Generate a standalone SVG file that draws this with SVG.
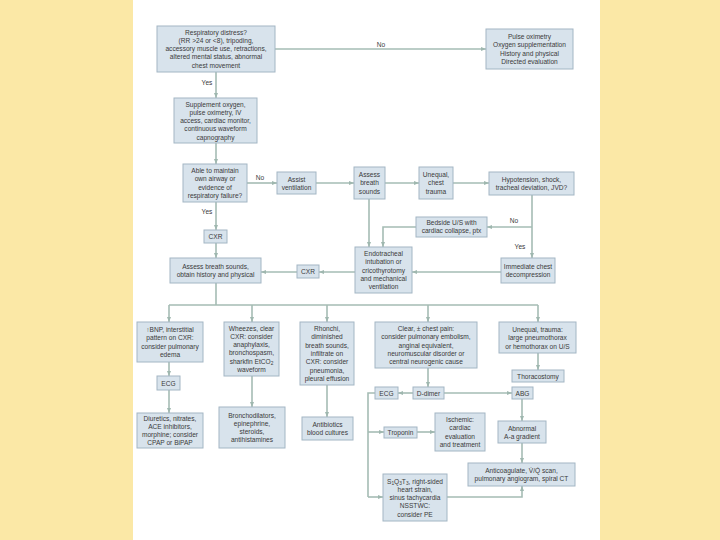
<svg xmlns="http://www.w3.org/2000/svg" width="720" height="540" viewBox="0 0 720 540">
<defs>
<style>
.b{fill:#d8e3ec;stroke:#a3b6c4;stroke-width:1}
.t{font-family:"Liberation Sans",Arial,sans-serif;font-size:6.6px;fill:#3a3a3a;text-anchor:middle}
.l{font-family:"Liberation Sans",Arial,sans-serif;font-size:6.6px;fill:#3a3a3a;text-anchor:middle}
.c{fill:none;stroke:#a5bcb4;stroke-width:1.6}
.a{marker-end:url(#ah)}
</style>
<marker id="ah" viewBox="0 0 10 10" refX="10" refY="5" markerWidth="5" markerHeight="5" markerUnits="userSpaceOnUse" orient="auto">
<path d="M0,1 L10,5 L0,9 z" fill="#9fb7af"/>
</marker>
</defs>
<rect x="0" y="0" width="720" height="540" fill="#fbe8a6"/>
<rect x="133" y="0" width="467" height="540" fill="#ffffff"/>

<g id="connectors">
<path class="c a" d="M275,49 H486"/>
<path class="c a" d="M216,72 V98"/>
<path class="c a" d="M216,143 V164"/>
<path class="c a" d="M247,183 H277"/>
<path class="c a" d="M316,183 H354"/>
<path class="c a" d="M385,183 H419"/>
<path class="c a" d="M453,183 H489"/>
<path class="c a" d="M532,195 V258"/>
<path class="c a" d="M532,227 H487"/>
<path class="c a" d="M416,227 H383 V247"/>
<path class="c a" d="M369,199 V247"/>
<path class="c a" d="M501,272 H412"/>
<path class="c a" d="M355,272 H319"/>
<path class="c a" d="M297,272 H261"/>
<path class="c a" d="M216,202 V230"/>
<path class="c a" d="M216,243 V258"/>
<path class="c" d="M216,283 V305 M169,305 H538"/>
<path class="c a" d="M169,305 V322"/>
<path class="c a" d="M252,305 V322"/>
<path class="c a" d="M327,305 V322"/>
<path class="c a" d="M428,305 V322"/>
<path class="c a" d="M538,305 V322"/>
<path class="c a" d="M169,362 V376"/>
<path class="c a" d="M169,390 V413"/>
<path class="c a" d="M252,376 V407"/>
<path class="c a" d="M327,385 V417"/>
<path class="c a" d="M538,353 V370"/>
<path class="c a" d="M428,368 V387"/>
<path class="c a" d="M413,393 H398"/>
<path class="c a" d="M444,393 H512"/>
<path class="c" d="M375,393 H368 V497"/>
<path class="c a" d="M368,432 H384"/>
<path class="c a" d="M368,497 H383"/>
<path class="c a" d="M417,432 H435"/>
<path class="c a" d="M522,399 V421"/>
<path class="c a" d="M522,443 V463"/>
<path class="c a" d="M447,497 H522 V486"/>
<text class="l" x="381" y="47">No</text>
<text class="l" x="207" y="85">Yes</text>
<text class="l" x="260" y="180">No</text>
<text class="l" x="207" y="214">Yes</text>
<text class="l" x="514" y="223">No</text>
<text class="l" x="520" y="249">Yes</text>
</g>

<g id="n-resp"><rect class="b" x="157" y="26" width="118" height="46"/>
<text class="t" x="216" y="34.5"><tspan x="216">Respiratory distress?</tspan><tspan x="216" dy="8.3">(RR &gt;24 or &lt;8), tripoding,</tspan><tspan x="216" dy="8.3">accessory muscle use, retractions,</tspan><tspan x="216" dy="8.3">altered mental status, abnormal</tspan><tspan x="216" dy="8.3">chest movement</tspan></text></g>

<g id="n-pulse"><rect class="b" x="486" y="29" width="87" height="40"/>
<text class="t" x="529.5" y="39"><tspan x="529.5">Pulse oximetry</tspan><tspan x="529.5" dy="8.3">Oxygen supplementation</tspan><tspan x="529.5" dy="8.3">History and physical</tspan><tspan x="529.5" dy="8.3">Directed evaluation</tspan></text></g>

<g id="n-supp"><rect class="b" x="174" y="98" width="83" height="45"/>
<text class="t" x="215.5" y="106.5"><tspan x="215.5">Supplement oxygen,</tspan><tspan x="215.5" dy="8.3">pulse oximetry, IV</tspan><tspan x="215.5" dy="8.3">access, cardiac monitor,</tspan><tspan x="215.5" dy="8.3">continuous waveform</tspan><tspan x="215.5" dy="8.3">capnography</tspan></text></g>

<g id="n-able"><rect class="b" x="183" y="164" width="64" height="38"/>
<text class="t" x="215" y="173"><tspan x="215">Able to maintain</tspan><tspan x="215" dy="8.3">own airway or</tspan><tspan x="215" dy="8.3">evidence of</tspan><tspan x="215" dy="8.3">respiratory failure?</tspan></text></g>

<g id="n-assist"><rect class="b" x="277" y="172" width="39" height="22"/>
<text class="t" x="296.5" y="181.5"><tspan x="296.5">Assist</tspan><tspan x="296.5" dy="8.3">ventilation</tspan></text></g>

<g id="n-assess"><rect class="b" x="354" y="167" width="31" height="32"/>
<text class="t" x="369.5" y="177"><tspan x="369.5">Assess</tspan><tspan x="369.5" dy="8.3">breath</tspan><tspan x="369.5" dy="8.3">sounds</tspan></text></g>

<g id="n-unequal"><rect class="b" x="419" y="167" width="34" height="32"/>
<text class="t" x="436" y="177"><tspan x="436">Unequal,</tspan><tspan x="436" dy="8.3">chest</tspan><tspan x="436" dy="8.3">trauma</tspan></text></g>

<g id="n-hypo"><rect class="b" x="489" y="172" width="85" height="23"/>
<text class="t" x="531.5" y="181.5"><tspan x="531.5">Hypotension, shock,</tspan><tspan x="531.5" dy="8.3">tracheal deviation, JVD?</tspan></text></g>

<g id="n-bedside"><rect class="b" x="416" y="217" width="71" height="20"/>
<text class="t" x="451.5" y="225"><tspan x="451.5">Bedside U/S with</tspan><tspan x="451.5" dy="8.3">cardiac collapse, ptx</tspan></text></g>

<g id="n-immediate"><rect class="b" x="501" y="258" width="54" height="25"/>
<text class="t" x="528" y="268.5"><tspan x="528">Immediate chest</tspan><tspan x="528" dy="8.3">decompression</tspan></text></g>

<g id="n-endo"><rect class="b" x="355" y="247" width="57" height="46"/>
<text class="t" x="383.5" y="256"><tspan x="383.5">Endotracheal</tspan><tspan x="383.5" dy="8.3">intubation or</tspan><tspan x="383.5" dy="8.3">cricothyrotomy</tspan><tspan x="383.5" dy="8.3">and mechanical</tspan><tspan x="383.5" dy="8.3">ventilation</tspan></text></g>

<g id="n-cxr2"><rect class="b" x="297" y="265" width="22" height="13"/>
<text class="t" x="308" y="274">CXR</text></g>

<g id="n-assesshist"><rect class="b" x="170" y="258" width="91" height="25"/>
<text class="t" x="215.5" y="268.5"><tspan x="215.5">Assess breath sounds,</tspan><tspan x="215.5" dy="8.3">obtain history and physical</tspan></text></g>

<g id="n-cxr1"><rect class="b" x="204" y="230" width="23" height="13"/>
<text class="t" x="215.5" y="239">CXR</text></g>

<g id="n-bnp"><rect class="b" x="137" y="322" width="66" height="40"/>
<text class="t" x="170" y="332"><tspan x="170">↑BNP, interstitial</tspan><tspan x="170" dy="8.3">pattern on CXR:</tspan><tspan x="170" dy="8.3">consider pulmonary</tspan><tspan x="170" dy="8.3">edema</tspan></text></g>

<g id="n-ecg1"><rect class="b" x="157" y="376" width="23" height="14"/>
<text class="t" x="168.5" y="385.5">ECG</text></g>

<g id="n-diur"><rect class="b" x="137" y="413" width="66" height="35"/>
<text class="t" x="170" y="420.5"><tspan x="170">Diuretics, nitrates,</tspan><tspan x="170" dy="8.3">ACE inhibitors,</tspan><tspan x="170" dy="8.3">morphine; consider</tspan><tspan x="170" dy="8.3">CPAP or BiPAP</tspan></text></g>

<g id="n-wheez"><rect class="b" x="224" y="322" width="55" height="54"/>
<text class="t" x="251.5" y="330.5"><tspan x="251.5">Wheezes, clear</tspan><tspan x="251.5" dy="8.3">CXR: consider</tspan><tspan x="251.5" dy="8.3">anaphylaxis,</tspan><tspan x="251.5" dy="8.3">bronchospasm,</tspan><tspan x="251.5" dy="8.3">sharkfin EtCO<tspan font-size="4.8" dy="1.5">2</tspan></tspan><tspan x="251.5" dy="6.8">waveform</tspan></text></g>

<g id="n-bronch"><rect class="b" x="219" y="407" width="66" height="41"/>
<text class="t" x="252" y="417.5"><tspan x="252">Bronchodilators,</tspan><tspan x="252" dy="8.3">epinephrine,</tspan><tspan x="252" dy="8.3">steroids,</tspan><tspan x="252" dy="8.3">antihistamines</tspan></text></g>

<g id="n-rhon"><rect class="b" x="300" y="322" width="54" height="63"/>
<text class="t" x="327" y="331"><tspan x="327">Rhonchi,</tspan><tspan x="327" dy="8.3">diminished</tspan><tspan x="327" dy="8.3">breath sounds,</tspan><tspan x="327" dy="8.3">infiltrate on</tspan><tspan x="327" dy="8.3">CXR: consider</tspan><tspan x="327" dy="8.3">pneumonia,</tspan><tspan x="327" dy="8.3">pleural effusion</tspan></text></g>

<g id="n-antib"><rect class="b" x="302" y="417" width="51" height="23"/>
<text class="t" x="327.5" y="426.5"><tspan x="327.5">Antibiotics</tspan><tspan x="327.5" dy="8.3">blood cultures</tspan></text></g>

<g id="n-clear"><rect class="b" x="375" y="322" width="102" height="46"/>
<text class="t" x="426" y="331"><tspan x="426">Clear, ± chest pain:</tspan><tspan x="426" dy="8.3">consider pulmonary embolism,</tspan><tspan x="426" dy="8.3">anginal equivalent,</tspan><tspan x="426" dy="8.3">neuromuscular disorder or</tspan><tspan x="426" dy="8.3">central neurogenic cause</tspan></text></g>

<g id="n-uneqt"><rect class="b" x="499" y="322" width="77" height="31"/>
<text class="t" x="537.5" y="332"><tspan x="537.5">Unequal, trauma:</tspan><tspan x="537.5" dy="8.3">large pneumothorax</tspan><tspan x="537.5" dy="8.3">or hemothorax on U/S</tspan></text></g>

<g id="n-thor"><rect class="b" x="512" y="370" width="52" height="12"/>
<text class="t" x="538" y="378.5">Thoracostomy</text></g>

<g id="n-ddimer"><rect class="b" x="413" y="387" width="31" height="12"/>
<text class="t" x="428.5" y="395.5">D-dimer</text></g>

<g id="n-ecg2"><rect class="b" x="375" y="387" width="23" height="12"/>
<text class="t" x="386.5" y="395.5">ECG</text></g>

<g id="n-abg"><rect class="b" x="512" y="387" width="21" height="12"/>
<text class="t" x="522.5" y="395.5">ABG</text></g>

<g id="n-trop"><rect class="b" x="384" y="427" width="33" height="11"/>
<text class="t" x="400.5" y="435">Troponin</text></g>

<g id="n-isch"><rect class="b" x="435" y="413" width="50" height="38"/>
<text class="t" x="460" y="422"><tspan x="460">Ischemic:</tspan><tspan x="460" dy="8.3">cardiac</tspan><tspan x="460" dy="8.3">evaluation</tspan><tspan x="460" dy="8.3">and treatment</tspan></text></g>

<g id="n-abn"><rect class="b" x="498" y="421" width="48" height="22"/>
<text class="t" x="522" y="430.5"><tspan x="522">Abnormal</tspan><tspan x="522" dy="8.3">A-a gradient</tspan></text></g>

<g id="n-antic"><rect class="b" x="468" y="463" width="107" height="23"/>
<text class="t" x="521.5" y="472.5"><tspan x="521.5">Anticoagulate, V̇/Q̇ scan,</tspan><tspan x="521.5" dy="8.3">pulmonary angiogram, spiral CT</tspan></text></g>

<g id="n-s1"><rect class="b" x="383" y="474" width="64" height="47"/>
<text class="t" x="415" y="483.5"><tspan x="415">S<tspan font-size="4.8" dy="1.5">1</tspan><tspan dy="-1.5">Q</tspan><tspan font-size="4.8" dy="1.5">3</tspan><tspan dy="-1.5">T</tspan><tspan font-size="4.8" dy="1.5">3</tspan><tspan dy="-1.5">, right-sided</tspan></tspan><tspan x="415" dy="8.3">heart strain,</tspan><tspan x="415" dy="8.3">sinus tachycardia</tspan><tspan x="415" dy="8.3">NSSTWC:</tspan><tspan x="415" dy="8.3">consider PE</tspan></text></g>
</svg>
